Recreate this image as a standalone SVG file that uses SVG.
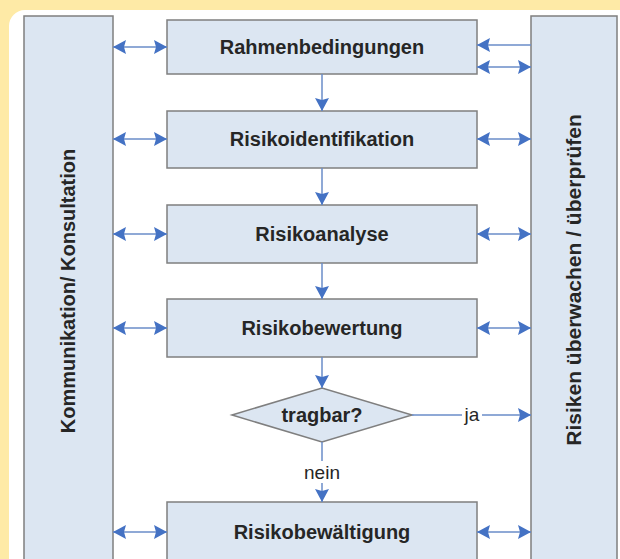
<svg xmlns="http://www.w3.org/2000/svg" width="620" height="559" viewBox="0 0 620 559">
<style>
.box{fill:#dce6f2;stroke:#7f7f7f;stroke-width:1.5}
.t{font-family:"Liberation Sans",Arial,sans-serif;font-weight:bold;font-size:20px;fill:#262626;text-anchor:middle}
.lbl{font-family:"Liberation Sans",Arial,sans-serif;font-size:19px;fill:#262626;text-anchor:middle}
.c{stroke:#6a8cc9;stroke-width:1.5;fill:none}
</style>
<defs>
<marker id="ah" viewBox="0 0 13 14" refX="13" refY="7" markerWidth="13" markerHeight="14" markerUnits="userSpaceOnUse" orient="auto-start-reverse">
<path d="M0,0 L13,7 L0,14 L2,7 Z" fill="#4472c4"/>
</marker>
</defs>
<rect x="0" y="0" width="620" height="559" fill="#feeaa6"/>
<rect x="9" y="10" width="640" height="600" rx="16" ry="16" fill="#ffffff"/>

<g id="kommunikation">
<rect class="box" x="24" y="16" width="89" height="560"/>
<text class="t" transform="translate(75,291) rotate(-90)">Kommunikation/ Konsultation</text>
</g>
<g id="ueberwachen">
<rect class="box" x="531" y="16" width="86" height="560"/>
<text class="t" style="font-size:21px" transform="translate(581,280) rotate(-90)">Risiken überwachen / überprüfen</text>
</g>

<g id="rahmenbedingungen">
<rect class="box" x="167" y="20" width="310" height="54"/>
<text class="t" x="322" y="54">Rahmenbedingungen</text>
</g>
<g id="risikoidentifikation">
<rect class="box" x="167" y="111" width="310" height="57"/>
<text class="t" x="322" y="146">Risikoidentifikation</text>
</g>
<g id="risikoanalyse">
<rect class="box" x="167" y="205" width="310" height="58"/>
<text class="t" x="322" y="241">Risikoanalyse</text>
</g>
<g id="risikobewertung">
<rect class="box" x="167" y="299" width="310" height="58"/>
<text class="t" x="322" y="335">Risikobewertung</text>
</g>
<g id="tragbar">
<polygon class="box" points="232,415 322,388 412,415 322,442"/>
<text class="t" x="322" y="422">tragbar?</text>
</g>
<g id="risikobewaeltigung">
<rect class="box" x="167" y="502" width="310" height="70"/>
<text class="t" x="322" y="539">Risikobewältigung</text>
</g>

<g id="connectors">
<line class="c" x1="322" y1="74" x2="322" y2="111" marker-end="url(#ah)"/>
<line class="c" x1="322" y1="168" x2="322" y2="205" marker-end="url(#ah)"/>
<line class="c" x1="322" y1="263" x2="322" y2="299" marker-end="url(#ah)"/>
<line class="c" x1="322" y1="357" x2="322" y2="388" marker-end="url(#ah)"/>
<line class="c" x1="322" y1="442" x2="322" y2="502" marker-end="url(#ah)"/>
<line class="c" x1="412" y1="415" x2="531" y2="415" marker-end="url(#ah)"/>

<line class="c" x1="113" y1="47" x2="167" y2="47" marker-start="url(#ah)" marker-end="url(#ah)"/>
<line class="c" x1="113" y1="139" x2="167" y2="139" marker-start="url(#ah)" marker-end="url(#ah)"/>
<line class="c" x1="113" y1="234" x2="167" y2="234" marker-start="url(#ah)" marker-end="url(#ah)"/>
<line class="c" x1="113" y1="328" x2="167" y2="328" marker-start="url(#ah)" marker-end="url(#ah)"/>
<line class="c" x1="113" y1="532" x2="167" y2="532" marker-start="url(#ah)" marker-end="url(#ah)"/>

<line class="c" x1="531" y1="45" x2="477" y2="45" marker-end="url(#ah)"/>
<line class="c" x1="477" y1="67" x2="531" y2="67" marker-start="url(#ah)" marker-end="url(#ah)"/>
<line class="c" x1="477" y1="139" x2="531" y2="139" marker-start="url(#ah)" marker-end="url(#ah)"/>
<line class="c" x1="477" y1="234" x2="531" y2="234" marker-start="url(#ah)" marker-end="url(#ah)"/>
<line class="c" x1="477" y1="328" x2="531" y2="328" marker-start="url(#ah)" marker-end="url(#ah)"/>
<line class="c" x1="477" y1="532" x2="531" y2="532" marker-start="url(#ah)" marker-end="url(#ah)"/>

<rect x="462" y="404" width="20" height="22" fill="#ffffff"/>
<text class="lbl" x="472" y="421">ja</text>
<rect x="301" y="461" width="42" height="22" fill="#ffffff"/>
<text class="lbl" x="322" y="479">nein</text>
</g>
</svg>
